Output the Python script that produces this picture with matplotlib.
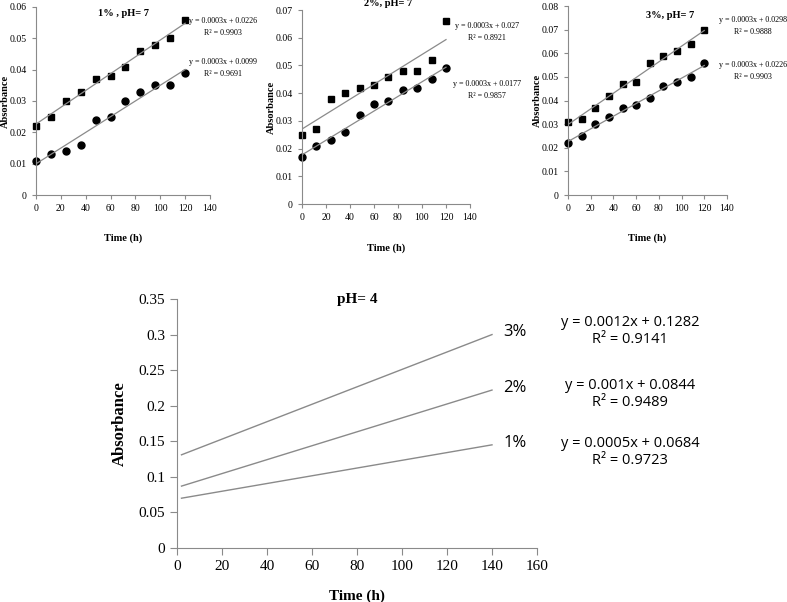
import numpy as np
import matplotlib.pyplot as plt

# time points for pH 7 experiments
time_h = [0, 12, 24, 36, 48, 60, 72, 84, 96, 108, 120]

# 1%, pH 7
p1_sq = [0.022, 0.025, 0.030, 0.033, 0.037, 0.038, 0.041, 0.046, 0.048, 0.050, 0.056]
p1_ci = [0.011, 0.013, 0.014, 0.016, 0.024, 0.025, 0.030, 0.033, 0.035, 0.035, 0.039]
# 2%, pH 7
p2_sq = [0.025, 0.027, 0.038, 0.040, 0.042, 0.043, 0.046, 0.048, 0.048, 0.052, 0.066]
p2_ci = [0.017, 0.021, 0.023, 0.026, 0.032, 0.036, 0.037, 0.041, 0.042, 0.045, 0.049]
# 3%, pH 7
p3_sq = [0.031, 0.032, 0.037, 0.042, 0.047, 0.048, 0.056, 0.059, 0.061, 0.064, 0.070]
p3_ci = [0.022, 0.025, 0.030, 0.033, 0.037, 0.038, 0.041, 0.046, 0.048, 0.050, 0.056]

p1_eq = ["y = 0.0003x + 0.0226\nR² = 0.9903", "y = 0.0003x + 0.0099\nR² = 0.9691"]
p2_eq = ["y = 0.0003x + 0.027\nR² = 0.8921", "y = 0.0003x + 0.0177\nR² = 0.9857"]
p3_eq = ["y = 0.0003x + 0.0298\nR² = 0.9888", "y = 0.0003x + 0.0226\nR² = 0.9903"]

# pH 4 trend lines (start / end values)
ph4_x = [2, 140]
ph4_labels = ["3%", "2%", "1%"]
ph4_y = [[0.131, 0.300], [0.087, 0.222], [0.070, 0.145]]
ph4_eq = ["y = 0.0012x + 0.1282\nR² = 0.9141",
          "y = 0.001x + 0.0844\nR² = 0.9489",
          "y = 0.0005x + 0.0684\nR² = 0.9723"]

W, H = 787, 602
SERIF = "Liberation Serif"
SANS = "Open Sans"
GREY = "#8a8a8a"

fig = plt.figure(figsize=(W / 100, H / 100), dpi=100)


def px_axes(x0, y0, x1, y1):
    # pixel box (top-left origin) -> axes
    return fig.add_axes([x0 / W, 1 - y1 / H, (x1 - x0) / W, (y1 - y0) / H])


def style(ax, size):
    for s in ["top", "right"]:
        ax.spines[s].set_visible(False)
    for s in ["left", "bottom"]:
        ax.spines[s].set_color(GREY)
    ax.tick_params(colors=GREY, labelcolor="black", labelsize=size, length=3, direction="out")
    for lab in ax.get_xticklabels() + ax.get_yticklabels():
        lab.set_family(SERIF)


def small_panel(box, sq, ci, ymax, title, title_pos, eqs, eq_pos, xlab_y):
    ax = px_axes(*box)
    for data, m in [(sq, "s"), (ci, "o")]:
        ax.plot(time_h, data, m, color="black", markersize=5, clip_on=False)
        k, b = np.polyfit(time_h, data, 1)
        xs = np.array([0, 120])
        ax.plot(xs, k * xs + b, color=GREY, lw=0.9)
    ax.set_xlim(0, 140)
    ax.set_ylim(0, ymax)
    ax.set_xticks(range(0, 141, 20))
    ax.set_yticks(np.arange(0, ymax + 1e-9, 0.01))
    ax.set_yticklabels(["0"] + ["%.2f" % v for v in np.arange(0.01, ymax + 1e-9, 0.01)])
    style(ax, 7)
    fig.text(title_pos[0] / W, 1 - title_pos[1] / H, title, family=SERIF, weight="bold",
             fontsize=7.5, ha="center", va="center")
    for t, (x, y) in zip(eqs, eq_pos):
        fig.text(x / W, 1 - y / H, t, family=SERIF, fontsize=5.8, ha="center", va="center",
                 linespacing=1.7)
    cx = (box[0] + box[2]) / 2
    fig.text(cx / W, 1 - xlab_y / H, "Time (h)", family=SERIF, weight="bold",
             fontsize=7.5, ha="center", va="center")
    fig.text((box[0] - 31) / W, 1 - ((box[1] + box[3]) / 2) / H, "Absorbance", family=SERIF,
             weight="bold", fontsize=7.5, rotation=90, ha="center", va="center")
    return ax


small_panel((36, 7, 210, 195), p1_sq, p1_ci, 0.06, "1% , pH= 7", (123, 13),
            p1_eq, [(223, 27), (223, 68)], 238)
small_panel((302, 10, 470, 204), p2_sq, p2_ci, 0.07, "2%, pH= 7", (388, 3),
            p2_eq, [(487, 32), (487, 90)], 248)
small_panel((568, 6, 727, 195), p3_sq, p3_ci, 0.08, "3%, pH= 7", (670, 15),
            p3_eq, [(753, 26), (753, 71)], 238)

# pH 4 panel
ax = px_axes(177, 299, 537, 548)
for ys in ph4_y:
    ax.plot(ph4_x, ys, color=GREY, lw=1.0)
ax.set_xlim(0, 160)
ax.set_ylim(0, 0.35)
ax.set_xticks(range(0, 161, 20))
ax.set_yticks(np.arange(0, 0.351, 0.05))
ax.set_yticklabels(["0", "0.05", "0.1", "0.15", "0.2", "0.25", "0.3", "0.35"])
style(ax, 11)
ax.tick_params(length=5)
ax.text(0.5, 1.0, "pH= 4", transform=ax.transAxes, family=SERIF, weight="bold",
        fontsize=11, ha="center", va="center")
ax.set_xlabel("Time (h)", family=SERIF, weight="bold", fontsize=11, labelpad=12)
ax.set_ylabel("Absorbance", family=SERIF, weight="bold", fontsize=12, labelpad=8)
for lab, ys in zip(ph4_labels, ph4_y):
    ax.text(ph4_x[1] + 5, ys[1] + 0.003, lab, family=SANS, fontsize=12, ha="left", va="center")

for t, y in zip(ph4_eq, [331, 394, 452]):
    fig.text(630 / W, 1 - y / H, t, family=SANS, fontsize=10.5, ha="center", va="center",
             linespacing=1.15)

plt.savefig("out.png", dpi=100)
